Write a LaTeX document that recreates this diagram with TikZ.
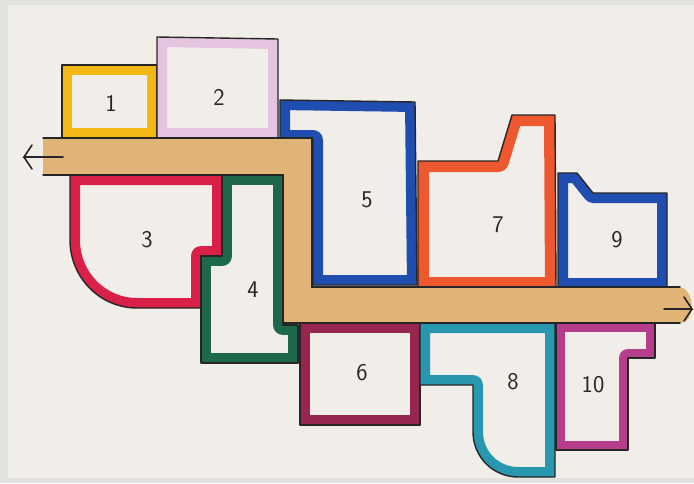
\documentclass[tikz,border=0pt]{standalone}
\usepackage{fontspec}
\setmainfont{DejaVu Sans}
\begin{document}
\begin{tikzpicture}[x=1pt,y=-1pt,
  outline/.style={draw=black!85, line width=1.4pt, line join=round},
  lbl/.style={font=\sffamily\fontsize{24}{24}\selectfont, text=black!85},
  roadline/.style={draw=black!85, line width=1.4pt, line cap=round}]
\definecolor{paper}{RGB}{241,238,233}
\definecolor{bgrey}{RGB}{226,226,222}
\definecolor{cyel}{RGB}{242,184,20}
\definecolor{cpink}{RGB}{228,196,222}
\definecolor{cred}{RGB}{216,32,72}
\definecolor{cgreen}{RGB}{30,105,75}
\definecolor{cblue}{RGB}{32,78,176}
\definecolor{cmaroon}{RGB}{150,38,80}
\definecolor{corange}{RGB}{238,88,46}
\definecolor{cteal}{RGB}{40,152,175}
\definecolor{cmag}{RGB}{182,60,140}
\definecolor{ctan}{RGB}{224,180,118}
\useasboundingbox (0,0) rectangle (694,483);
\fill[bgrey] (0,0) rectangle (694,483);
\fill[paper] (8,5) rectangle (694,478);
% helper: band drawing
\newcommand{\bandshape}[3]{%
  \begin{scope}\clip #1;\draw[#2, line width=#3, line join=round] #1;\end{scope}%
  \draw[outline] #1;}
% Box 1
\bandshape{(62,65) -- (157,65) -- (157,138) -- (62,138) -- cycle}{cyel}{20pt}
% Box 2
\bandshape{(157,37) -- (278,39) -- (278,138) -- (157,138) -- cycle}{cpink}{20pt}
% Box 5
\bandshape{(280,100) -- (415,102) -- (417,285) -- (313,285) -- (313,140) -- (280,140) -- cycle}{cblue}{20pt}
% Box 7
\bandshape{(418,161) -- (498,161) -- (512,115) -- (555,115) -- (556,288) -- (418,288) -- cycle}{corange}{22pt}
% Box 9
\bandshape{(558,173) -- (577,173) -- (593,193) -- (667,193) -- (667,288) -- (558,288) -- cycle}{cblue}{20pt}
% Box 3
\bandshape{(70,175) -- (222,175) -- (222,256) -- (201,256) -- (201,308) -- (137,308) arc[start angle=90, end angle=180, x radius=67, y radius=68] -- cycle}{cred}{20pt}
% Box 4
\bandshape{(222,175) -- (283,175) -- (283,325) -- (298,325) -- (298,363) -- (201,363) -- (201,256) -- (222,256) -- cycle}{cgreen}{20pt}
% Box 6
\bandshape{(300,323) -- (420,323) -- (420,425) -- (300,425) -- cycle}{cmaroon}{20pt}
% Box 8
\bandshape{(420,323) -- (555,323) -- (555,477) -- (518,477) arc[start angle=90, end angle=180, radius=45] -- (473,385) -- (420,385) -- cycle}{cteal}{20pt}
% Box 10
\bandshape{(556,323) -- (655,323) -- (655,358) -- (628,358) -- (628,450) -- (556,450) -- cycle}{cmag}{18pt}
% Road
\fill[ctan] (43,138) -- (312,138) -- (312,287) -- (678,287) to[out=0,in=0,looseness=1.2] (680,323) -- (283,323) -- (283,175) -- (43,175) -- cycle;
\draw[roadline] (43,138) -- (312,138) -- (312,287) -- (680,287);
\draw[roadline] (43,175) -- (283,175) -- (283,323) -- (680,323);
% arrows
\coordinate (la) at (63,157);
\coordinate (lb) at (24,157);
\coordinate (ra) at (664,309);
\coordinate (rb) at (692,309);
\draw[roadline, line width=1.6pt] (la) -- (lb) -- ++(8,-12) (lb) -- ++(8,12);
\draw[roadline, line width=1.6pt] (ra) -- (rb) -- ++(-8,-12) (rb) -- ++(-8,12);
% labels
\node[lbl] (l1) at (111,103) {1};
\node[lbl] (l2) at (219,97) {2};
\node[lbl] (l3) at (147,240) {3};
\node[lbl] (l4) at (253,290) {4};
\node[lbl] (l5) at (367,200) {5};
\node[lbl] (l6) at (362,373) {6};
\node[lbl] (l7) at (498,225) {7};
\node[lbl] (l8) at (513,382) {8};
\node[lbl] (l9) at (617,240) {9};
\node[lbl] (l10) at (593,385) {10};
\end{tikzpicture}
\end{document}
